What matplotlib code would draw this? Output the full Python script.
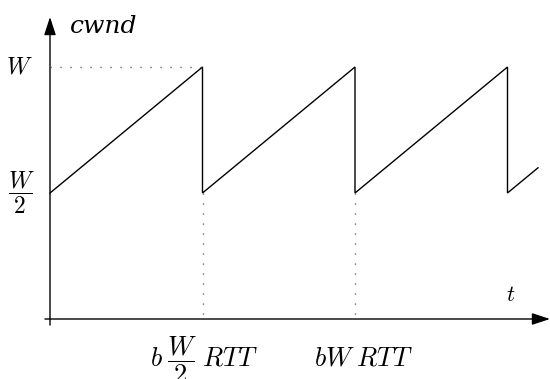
import matplotlib
matplotlib.use("Agg")
import matplotlib.pyplot as plt
from matplotlib.patches import FancyArrowPatch

plt.rcParams['mathtext.fontset'] = 'cm'

# Sawtooth data (time in units of bW/2 RTT, cwnd in units of W)
t_vals = [0.0, 1.0, 1.0, 2.0, 2.0, 3.0, 3.0, 3.2]
cwnd_vals = [0.5, 1.0, 0.5, 1.0, 0.5, 1.0, 0.5, 0.6]
drop_times = [1.0, 2.0]
W_level = 1.0
half_level = 0.5
x_tick_labels = [r'$b\;\dfrac{W}{2}\;RTT$', r'$bW\;RTT$']
x_tick_label_pos = [1.013, 2.056]

fig = plt.figure(figsize=(5.5, 3.79), dpi=100)
ax = fig.add_axes([0, 0, 1, 1])
# pixel mapping: x_px = 50 + t*152.5 ; y_px = 319 - c*252
ax.set_xlim(-50/152.5, 500/152.5)
ax.set_ylim((319-379)/252, 319/252)
ax.axis('off')

# axes arrows
style = "-|>,head_length=11,head_width=3.6"
ax.add_patch(FancyArrowPatch((-0.033, 0.0), (500/152.5, 0.0), arrowstyle=style,
                             mutation_scale=1, color='black', lw=1.0, shrinkA=0, shrinkB=0))
ax.add_patch(FancyArrowPatch((0.0, -0.024), (0.0, (319-17)/252), arrowstyle=style,
                             mutation_scale=1, color='black', lw=1.0, shrinkA=0, shrinkB=0))

# sawtooth
ax.plot(t_vals, cwnd_vals, color='black', lw=1.0, solid_joinstyle='miter')

# dotted guides
dot = dict(color='#444444', lw=1.0, linestyle=(0, (0.8, 6.4)))
ax.plot([0, 1.0], [W_level, W_level], **dot)
for dt in drop_times:
    ax.plot([dt, dt], [half_level, 0.0], **dot)

# labels
ax.text(0.13, 1.16, 'cwnd', fontsize=18, style='italic', family='DejaVu Serif',
        ha='left', va='center')
ax.text(-0.2, W_level, r'$W$', fontsize=17, ha='center', va='center')
ax.text(-0.19, half_level, r'$\dfrac{W}{2}$', fontsize=17, ha='center', va='center')
ax.text((511-50)/152.5, (319-295)/252, r'$t$', fontsize=16, ha='center', va='center')
ax.text(x_tick_label_pos[0], (319-360)/252, x_tick_labels[0], fontsize=19,
        ha='center', va='center')
ax.text(x_tick_label_pos[1], (319-365)/252, x_tick_labels[1], fontsize=19,
        ha='center', va='baseline')

fig.savefig('out.png', dpi=100)
